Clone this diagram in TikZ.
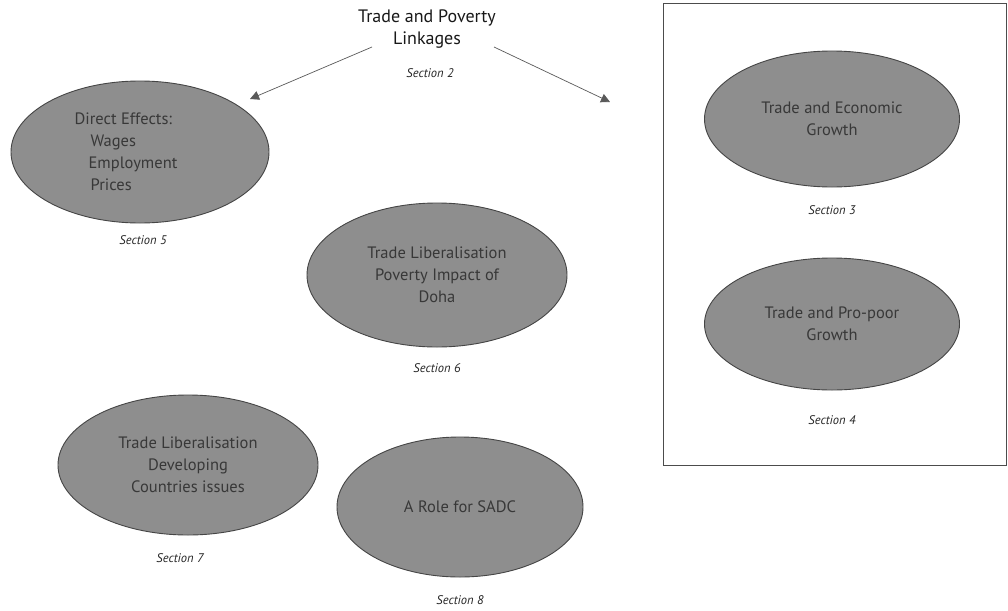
\documentclass[tikz,border=0pt]{standalone}
\usepackage{fontspec}
\setmainfont{PT Sans}
\usetikzlibrary{shapes.geometric,arrows.meta}
\definecolor{ellfill}{HTML}{8E8E8E}
\definecolor{elldraw}{HTML}{454545}
\definecolor{elltext}{HTML}{383838}
\definecolor{linegray}{HTML}{5A5A5A}
\tikzset{
  oval/.style={ellipse, draw=elldraw, fill=ellfill, line width=0.9pt, inner sep=0pt,
    text=elltext, align=center, font=\fontsize{16.5}{22}\selectfont},
  seclabel/.style={font=\fontsize{12.5}{14}\selectfont\itshape, text=black!85},
  link/.style={draw=linegray, line width=0.7pt, -{Triangle[length=9pt,width=9pt]}}
}
\begin{document}
\begin{tikzpicture}[x=1pt,y=-1pt]
\useasboundingbox[fill=white] (0,0) rectangle (1008,610);
% title
\node[align=center, font=\fontsize{18}{22}\selectfont, text=black!90] (title) at (427,29) {Trade and Poverty\\Linkages};
\node[seclabel] (s2) at (430,73) {Section 2};
\coordinate (la) at (372,47);
\coordinate (lb) at (250,99);
\coordinate (ra) at (494,47);
\coordinate (rb) at (610,102);
\draw[link] (la) -- (lb);
\draw[link] (ra) -- (rb);
% right box
\draw[line width=0.6pt, draw=black!70] (663,3) rectangle (1006,465);
% ellipses
\node[oval, minimum width=258pt, minimum height=142pt, align=left] (e5) at (140,152)
  {\hspace*{-14pt}Direct Effects:\\\hspace*{2pt}Wages\\Employment\hspace*{14pt}\mbox{}\\\hspace*{2pt}Prices};
\node[seclabel] (s5) at (143,240) {Section 5};
\node[oval, minimum width=260pt, minimum height=144pt] (e6) at (437,275)
  {Trade Liberalisation\\Poverty Impact of\\Doha};
\node[seclabel] (s6) at (437,368) {Section 6};
\node[oval, minimum width=260pt, minimum height=140pt] (e7) at (188,465)
  {Trade Liberalisation\\Developing\\Countries issues};
\node[seclabel] (s7) at (180,558) {Section 7};
\node[oval, minimum width=246pt, minimum height=140pt] (e8) at (460,507)
  {A Role for SADC};
\node[seclabel] (s8) at (460,600) {Section 8};
\node[oval, minimum width=255pt, minimum height=136pt] (e3) at (832,119)
  {Trade and Economic\\Growth};
\node[seclabel] (s3) at (832,210) {Section 3};
\node[oval, minimum width=255pt, minimum height=132pt] (e4) at (832,324)
  {Trade and Pro-poor\\Growth};
\node[seclabel] (s4) at (832,420) {Section 4};
\end{tikzpicture}
\end{document}
